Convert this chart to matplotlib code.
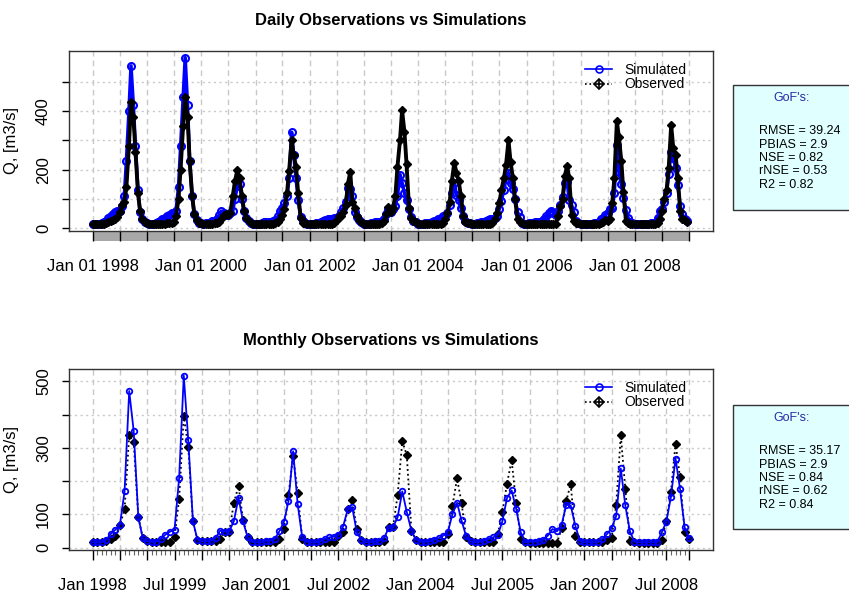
import matplotlib
matplotlib.use("Agg")
import matplotlib.pyplot as plt
import pandas as pd
from matplotlib.lines import Line2D
from matplotlib.patches import Rectangle
from matplotlib.transforms import blended_transform_factory

plt.rcParams['font.family'] = ['Liberation Sans', 'DejaVu Sans']

obs_daily = [
    14,14, 14,14, 14,15, 18,22, 24,28, 30,38, 55,80, 90,140, 280,431, 380,260, 120,60, 30,20,   # 1998
    16,15, 14,14, 14,14, 14,14, 15,16, 16,18, 22,40, 100,200, 350,448, 380,230, 110,50, 28,18,  # 1999
    16,15, 15,15, 15,15, 16,18, 22,30, 45,50, 45,52, 110,160, 200,170, 110,60, 35,25, 18,15,    # 2000
    14,14, 14,14, 14,14, 14,14, 15,17, 20,32, 45,67, 120,195, 300,250, 210,120, 35,18, 16,14,   # 2001
    14,14, 14,14, 14,14, 14,14, 14,14, 15,17, 28,40, 40,55, 80,150, 193,90, 70,40, 28,20,       # 2002
    14,14, 14,14, 14,14, 14,15, 18,24, 50,72, 55,68, 110,210, 300,403, 330,220, 70,35, 26,20,   # 2003
    14,14, 14,14, 14,14, 14,14, 14,14, 15,17, 30,52, 90,160, 224,190, 160,110, 40,22, 18,16,    # 2004
    14,14, 14,14, 14,14, 14,14, 14,16, 30,52, 85,130, 170,215, 300,226, 170,100, 32,20, 16,14,  # 2005
    13,13, 13,13, 13,13, 13,13, 13,13, 13,13, 13,14, 40,76, 100,178, 213,170, 45,23, 19,16,     # 2006
    14,14, 14,14, 14,14, 14,14, 15,17, 20,28, 24,32, 85,170, 365,311, 230,124, 26,16, 15,14,    # 2007
    13,13, 13,13, 13,13, 13,13, 13,14, 18,30, 60,98, 130,204, 352,274, 250,172, 60,32, 28,22,   # 2008
]
sim_daily = [
    14,14, 14,15, 18,22, 25,35, 40,50, 55,60, 60,75, 110,230, 400,555, 420,280, 130,55, 30,20,  # 1998
    16,15, 14,15, 16,20, 24,30, 35,42, 45,52, 48,60, 140,280, 450,583, 420,230, 110,50, 28,18,  # 1999
    16,15, 16,18, 18,24, 26,32, 45,58, 52,45, 45,52, 60,100, 145,150, 100,60, 35,25, 18,15,     # 2000
    14,14, 15,17, 20,22, 20,22, 24,28, 40,58, 70,85, 110,170, 328,250, 170,95, 38,24, 18,15,    # 2001
    14,14, 15,17, 18,22, 25,28, 30,32, 32,35, 35,40, 55,70, 90,138, 134,110, 55,38, 28,20,      # 2002
    14,14, 15,17, 18,20, 20,22, 25,32, 50,66, 55,66, 75,110, 183,155, 120,95, 65,38, 26,20,     # 2003
    15,15, 15,16, 17,19, 22,26, 26,30, 33,40, 40,52, 80,120, 155,115, 95,70, 42,26, 18,16,      # 2004
    14,15, 17,19, 20,22, 24,28, 30,32, 34,42, 65,93, 130,168, 190,154, 135,100, 55,37, 18,14,   # 2005
    15,16, 17,18, 20,22, 22,26, 32,40, 52,60, 52,46, 58,78, 105,153, 158,96, 78,54, 24,18,      # 2006
    14,14, 14,14, 14,15, 16,18, 22,30, 36,46, 52,64, 70,120, 283,193, 150,104, 62,36, 20,16,    # 2007
    14,14, 14,14, 14,15, 15,16, 16,18, 35,57, 65,89, 120,184, 260,240, 205,147, 75,47, 30,24,   # 2008
]

# monthly panel, Jan..Dec
obs_monthly = [
    16, 16, 16, 21, 26, 34, 68, 115, 338, 318, 92, 28,   # 1998
    19, 18, 18, 18, 18, 18, 31, 147, 397, 302, 80, 24,   # 1999
    19, 19, 19, 19, 26, 48, 48, 135, 185, 84, 31, 17,    # 2000
    16, 16, 16, 16, 16, 26, 56, 157, 276, 165, 26, 18,   # 2001
    16, 16, 16, 16, 16, 16, 34, 46, 117, 142, 56, 24,    # 2002
    16, 16, 16, 16, 21, 61, 61, 159, 320, 278, 51, 24,   # 2003
    16, 16, 16, 16, 16, 16, 41, 125, 208, 135, 31, 19,   # 2004
    16, 16, 16, 16, 16, 41, 107, 192, 263, 135, 26, 16,  # 2005
    13, 13, 13, 13, 13, 13, 13, 58, 139, 192, 34, 18,    # 2006
    16, 16, 16, 16, 18, 24, 28, 127, 338, 177, 21, 16,   # 2007
    14, 14, 14, 14, 14, 24, 79, 167, 313, 211, 46, 26,   # 2008
]
sim_monthly = [
    16, 16, 16, 24, 41, 54, 68, 169, 471, 351, 92, 28,   # 1998
    19, 18, 18, 26, 39, 48, 53, 210, 517, 323, 80, 24,   # 1999
    19, 19, 21, 29, 51, 48, 49, 80, 150, 79, 31, 17,     # 2000
    16, 16, 21, 21, 26, 49, 77, 139, 290, 132, 31, 18,   # 2001
    16, 16, 19, 26, 31, 33, 38, 63, 115, 122, 46, 24,    # 2002
    16, 16, 19, 21, 28, 58, 61, 92, 169, 107, 51, 24,    # 2003
    18, 18, 19, 24, 28, 36, 46, 100, 135, 82, 34, 19,    # 2004
    16, 18, 21, 26, 31, 38, 79, 149, 172, 117, 46, 16,   # 2005
    18, 18, 21, 24, 36, 56, 49, 68, 129, 127, 66, 21,    # 2006
    16, 16, 16, 16, 26, 41, 58, 95, 238, 127, 49, 18,    # 2007
    16, 16, 16, 16, 16, 46, 77, 152, 268, 176, 61, 28,   # 2008
]

gof_names = ["RMSE", "PBIAS", "NSE", "rNSE", "R2"]
gof_daily = ["39.24", "2.9", "0.82", "0.53", "0.82"]
gof_monthly = ["35.17", "2.9", "0.84", "0.62", "0.84"]

daily_dates = pd.date_range("1998-01-01", periods=len(obs_daily), freq="SMS")
monthly_dates = pd.date_range("1998-01-01", periods=len(obs_monthly), freq="MS")
period_start = pd.Timestamp("1998-01-01")
daily_end = pd.Timestamp("2008-12-31")
monthly_end = monthly_dates[-1]

W, H = 849, 594
fig = plt.figure(figsize=(W / 100, H / 100), dpi=100)


def px_axes(left, top, right, bottom):
    return fig.add_axes([left / W, 1 - bottom / H, (right - left) / W, (bottom - top) / H])


def setup(ax, dates_end, obs, sim, ytick_labels, label_every, fmt, minor):
    lo = min(min(obs), min(sim))
    hi = max(max(obs), max(sim))
    pad = 0.04 * (hi - lo)
    ax.set_ylim(lo - pad, hi + pad)
    x0 = matplotlib.dates.date2num(period_start)
    x1 = matplotlib.dates.date2num(dates_end)
    xpad = 0.04 * (x1 - x0)
    ax.set_xlim(x0 - xpad, x1 + xpad)

    yt = [0, 100, 200, 300, 400, 500]
    ax.set_yticks(yt)
    ax.set_yticklabels(ytick_labels)
    for y in yt:
        ax.axhline(y, color="#c8c8c8", ls=(0, (1.5, 2.5)), lw=1, zorder=0)

    major = list(pd.date_range(period_start, "2008-07-01", freq="6MS")) + [dates_end]
    ax.set_xticks(major)
    labels = [d.strftime(fmt) if i % label_every == 0 and i < len(major) - 1 else ""
              for i, d in enumerate(major)]
    ax.set_xticklabels(labels)
    for d in major:
        ax.axvline(d, color="#c8c8c8", ls=(0, (4, 3)), lw=1, zorder=0)

    if minor is not None:
        ax.set_xticks(minor, minor=True)
        ax.tick_params(axis="x", which="minor", length=3.8, width=0.8, color="#666666")

    ax.tick_params(axis="x", which="major", length=7.2, width=1, pad=13, labelsize=12)
    ax.tick_params(axis="y", length=5, width=1, pad=8, labelsize=12, labelrotation=90)
    for lab in ax.get_yticklabels():
        lab.set_va("center")
    for s in ax.spines.values():
        s.set_color("#333333")
        s.set_linewidth(1)
    ax.set_ylabel("Q, [m3/s]", fontsize=12)
    ax.yaxis.set_label_coords(-0.078, 0.5)

    handles = [
        Line2D([], [], color="blue", lw=1.2, marker="o", ms=5, mfc="none", mew=1.2),
        (Line2D([], [], color="black", lw=1.2, ls=":", marker="D", ms=5, mfc="none", mew=1.2),
         Line2D([], [], ls="", marker="+", ms=6, color="black", mew=1.2)),
    ]
    ax.legend(handles, ["Simulated", "Observed"], loc="upper left",
              bbox_to_anchor=(0.802, 0.935), frameon=False, fontsize=10,
              handlelength=1.9, handletextpad=0.9, labelspacing=0.05,
              borderaxespad=0, borderpad=0)


def gof_box(top, bottom, values):
    fig.add_artist(Rectangle((733 / W, 1 - bottom / H), 130 / W, (bottom - top) / H,
                             transform=fig.transFigure, facecolor="#E0FFFF",
                             edgecolor="#333333", lw=1, clip_on=False))
    fig.text(792 / W, 1 - (top + 13) / H, "GoF's:", color="#2B2BA8", fontsize=9,
             ha="center", va="center")
    for i, (n, v) in enumerate(zip(gof_names, values)):
        fig.text(759 / W, 1 - (top + 46 + 13.5 * i) / H, f"{n} = {v}", fontsize=9,
                 ha="left", va="center")


# daily panel
ax1 = px_axes(69, 51, 713, 231)
ax1.plot(daily_dates, sim_daily, color="blue", lw=2.5, marker="o", ms=5,
         mfc="none", mew=1.5, zorder=3)
ax1.plot(daily_dates, obs_daily, color="black", lw=2.8, marker="D", ms=4.5, zorder=4)
setup(ax1, daily_end, obs_daily, sim_daily, ["0", "", "200", "", "400", ""], 4,
      "%b %d %Y", None)
tr = blended_transform_factory(ax1.transData, ax1.transAxes)
x0 = matplotlib.dates.date2num(period_start)
x1 = matplotlib.dates.date2num(daily_end)
ax1.add_patch(Rectangle((x0, -10 / 180), x1 - x0, 10 / 180, transform=tr,
                        facecolor="#a8a8a8", edgecolor="none", clip_on=False, zorder=1))
fig.text(391 / W, 1 - 20 / H, "Daily Observations vs Simulations", ha="center",
         va="center", fontsize=12, fontweight="bold")

# monthly panel
ax2 = px_axes(69, 369, 713, 550)
ax2.plot(monthly_dates, sim_monthly, color="blue", lw=1.3, marker="o", ms=4,
         mfc="none", mew=1.3, zorder=3)
ax2.plot(monthly_dates, obs_monthly, color="black", lw=1.3, ls=":", marker="D",
         ms=3.8, zorder=2.9)
setup(ax2, monthly_end, obs_monthly, sim_monthly, ["0", "100", "", "300", "", "500"], 3,
      "%b %Y", monthly_dates)
fig.text(391 / W, 1 - 340 / H, "Monthly Observations vs Simulations", ha="center",
         va="center", fontsize=12, fontweight="bold")

gof_box(85, 210, gof_daily)
gof_box(405, 529, gof_monthly)

fig.savefig("out.png", dpi=100)
